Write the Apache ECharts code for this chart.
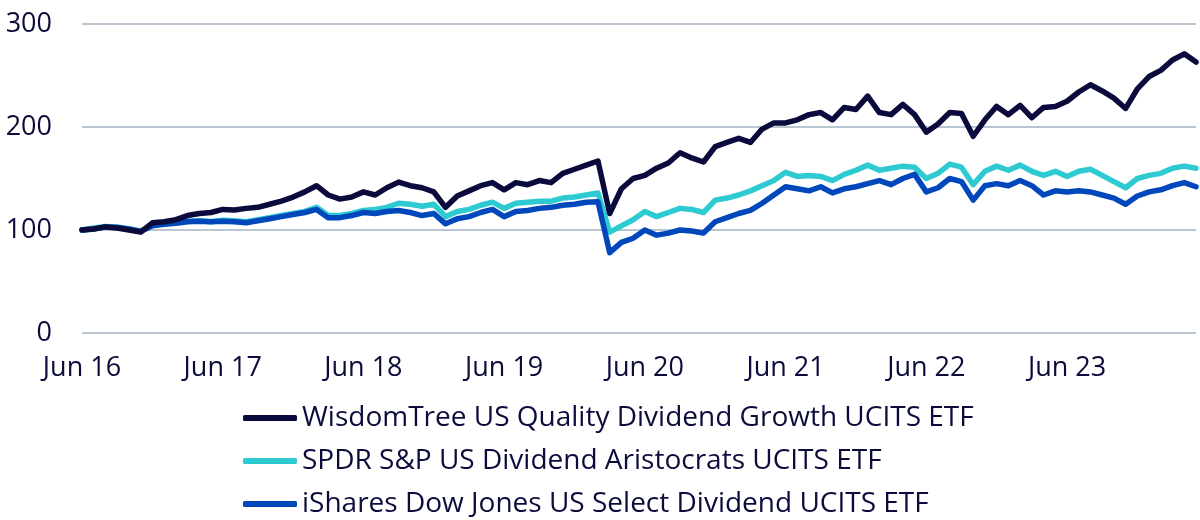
<!DOCTYPE html>
<html>
<head>
<meta charset="utf-8">
<script src="https://cdn.jsdelivr.net/npm/echarts@6/dist/echarts.min.js"></script>
<style>
    html, body { margin: 0; padding: 0; background: #fff; }
    #chart { width: 1200px; height: 520px; }
</style>
</head>
<body>
<div id="chart"></div>
<script>
// month-end points, Jun 2016 .. May 2024
var startYear = 2016, startMonth = 5;
var monthNames = ['Jan','Feb','Mar','Apr','May','Jun','Jul','Aug','Sep','Oct','Nov','Dec'];

var wisdomTree = [
    100, 101, 103, 102, 100, 98, 107, 108, 110, 114, 116, 117,
    120, 119.5, 121, 122, 125, 128, 132, 137, 143, 134, 130, 132,
    137, 134, 141, 146.5, 143, 141, 137, 122, 133, 138, 143, 146,
    139, 146, 144, 148, 146, 155, 159, 163, 167, 116, 140, 150,
    153, 160, 165, 175, 170, 166, 181, 185, 189, 185, 198, 204,
    204, 207, 212, 214, 207, 219, 217, 230, 214, 212, 222, 212,
    195, 203, 214, 213, 191, 207, 220, 212, 221, 209, 219, 220,
    225, 234, 241, 235, 228, 218, 237, 249, 255, 265, 271, 263
];
var spdr = [
    100, 102, 103.5, 103, 101, 99, 104.5, 106, 107, 108.5, 109, 108,
    109.5, 109, 108, 110, 112, 114, 116, 118, 122, 114, 114, 116,
    119, 120, 122, 126, 125, 123, 125, 113, 118, 120, 124, 127,
    121, 126, 127, 128, 128, 131, 132, 134, 136, 98, 104, 110,
    118, 113, 117, 121, 120, 117, 129, 131, 134, 138, 143, 148,
    156, 152, 153, 152, 148, 154, 158, 163, 158, 160, 162, 161,
    150, 155, 164, 161, 144, 157, 162, 158, 163, 157, 153, 157,
    152, 157, 159, 153, 147, 141, 150, 153, 155, 160, 162, 160
];
var iShares = [
    100, 101, 103, 102.5, 101, 98.5, 104, 105.5, 106.5, 108, 108.5, 108,
    108.5, 108, 107, 109, 111, 113, 115, 117, 120, 112, 112, 114,
    117, 116, 118, 119, 117, 114, 116, 106, 111, 113, 117, 120,
    113, 118, 119, 121, 122, 124, 125, 127, 127.5, 78, 88, 92,
    100, 95, 97, 100, 99, 97, 108, 112, 116, 119, 126, 134,
    142, 140, 138, 142, 136, 140, 142, 145, 148, 144, 150, 154,
    137, 141, 150, 147, 129, 143, 145, 143, 148, 143, 134, 138,
    137, 138, 137, 134, 131, 125, 133, 137, 139, 143, 146, 142
];
var seriesNames = [
    'WisdomTree US Quality Dividend Growth UCITS ETF',
    'SPDR S&P US Dividend Aristocrats UCITS ETF',
    'iShares Dow Jones US Select Dividend UCITS ETF'
];
var seriesColors = ['#0a0a3c', '#2ecad2', '#0047bb'];

var months = [];
for (var i = 0; i < wisdomTree.length; i++) {
    var m = (startMonth + i) % 12;
    var y = startYear + Math.floor((startMonth + i) / 12);
    months.push(monthNames[m] + ' ' + String(y).slice(2));
}

var textColor = '#0c0c3c';
var font = '"Open Sans", sans-serif';

function makeSeries(idx, data) {
    return {
        name: seriesNames[idx],
        type: 'line',
        data: data,
        showSymbol: false,
        smooth: false,
        lineStyle: { width: 5.5, color: seriesColors[idx], cap: 'round', join: 'round' },
        itemStyle: { color: seriesColors[idx] }
    };
}

var option = {
    animation: false,
    backgroundColor: '#ffffff',
    grid: { left: 82, right: 4, top: 24, bottom: 187 },
    legend: {
        orient: 'vertical',
        left: 238,
        top: 398,
        height: 140,
        itemWidth: 54,
        itemHeight: 6,
        itemGap: 13,
        icon: 'roundRect',
        textStyle: { fontFamily: font, fontSize: 28, color: textColor, lineHeight: 30 },
        data: seriesNames
    },
    xAxis: {
        type: 'category',
        data: months,
        boundaryGap: false,
        axisLine: { show: false },
        axisTick: { show: false },
        axisLabel: {
            interval: 11,
            margin: 22,
            fontFamily: font,
            fontSize: 27,
            color: textColor
        },
        splitLine: { show: false }
    },
    yAxis: {
        type: 'value',
        min: 0,
        max: 300,
        interval: 100,
        axisLine: { show: false },
        axisTick: { show: false },
        axisLabel: { margin: 30, fontFamily: font, fontSize: 27, color: textColor },
        splitLine: { lineStyle: { color: '#b9c5d1', width: 2 } }
    },
    series: [
        makeSeries(1, spdr),
        makeSeries(2, iShares),
        makeSeries(0, wisdomTree)
    ]
};

var chart = echarts.init(document.getElementById('chart'));
chart.setOption(option);
</script>
</body>
</html>
